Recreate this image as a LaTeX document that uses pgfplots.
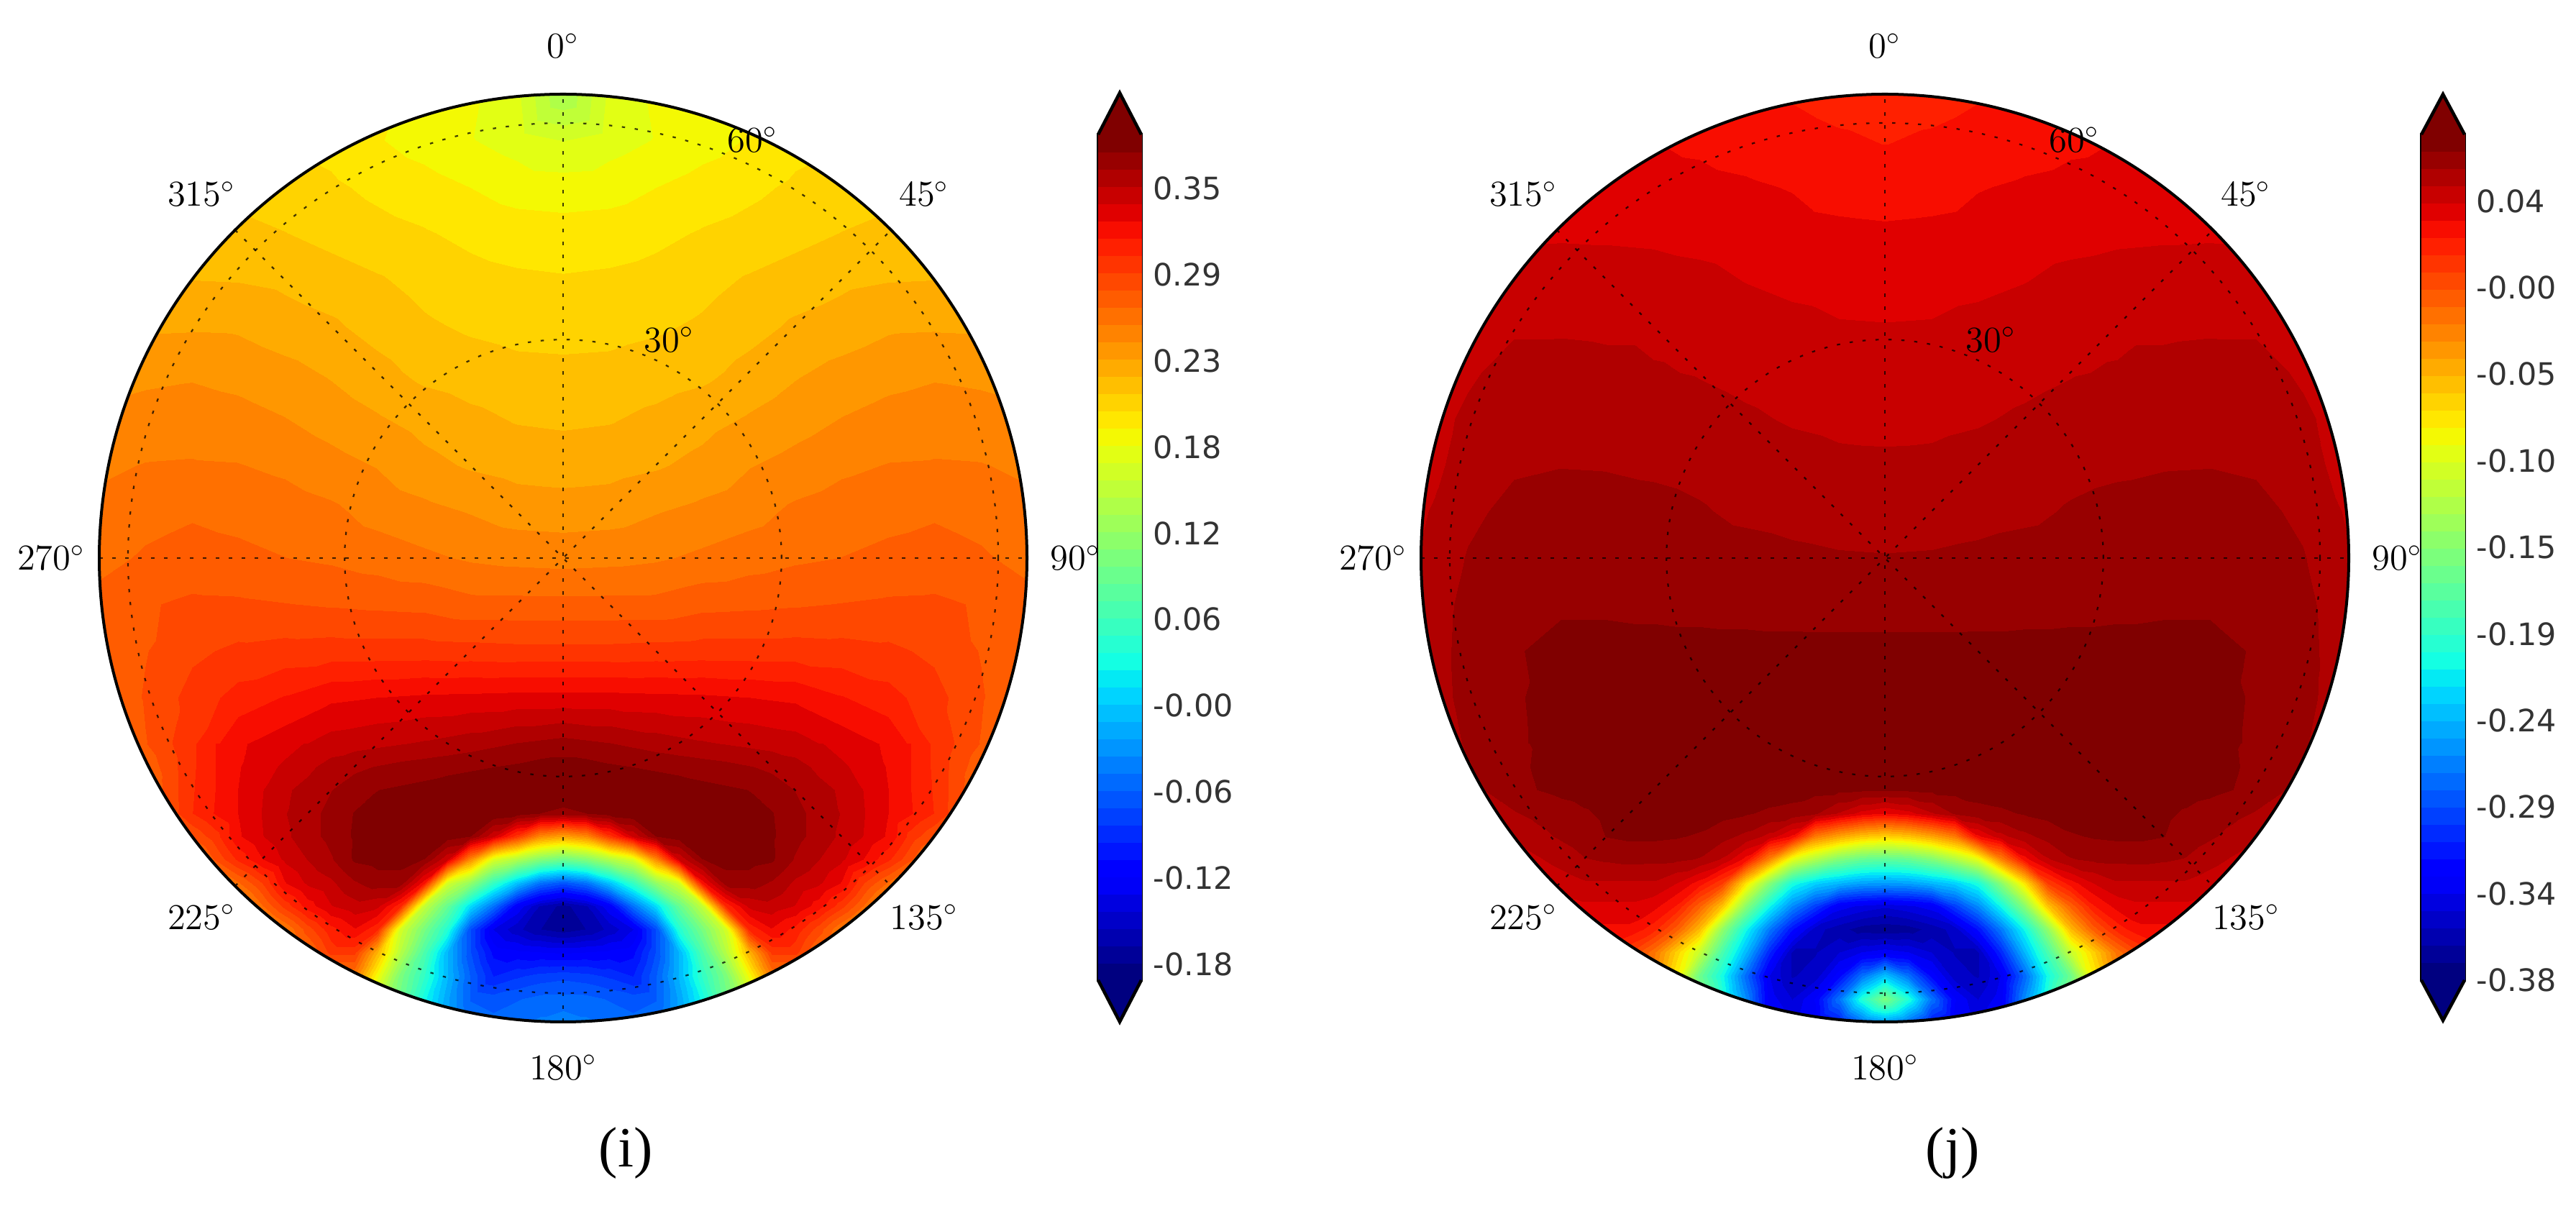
\documentclass[border=0pt]{standalone}
\usepackage{fontspec}
\usepackage{pgfplots}
\usepackage{pgfplotstable}
\pgfplotsset{compat=1.18}
\newfontfamily\barfont{DejaVu Sans}
\newfontfamily\capfont{Liberation Serif}

% matplotlib jet, cut into the 49 bands of the contour plots
\pgfplotsset{
  colormap={mpljet}{
    rgb(0pt)=(0,0,.5) rgb(110pt)=(0,0,1) rgb(125pt)=(0,0,1) rgb(340pt)=(0,.86,1)
    rgb(350pt)=(0,.9,.97) rgb(375pt)=(.08,1,.89) rgb(640pt)=(.935,1,.03) rgb(650pt)=(.97,.96,0)
    rgb(660pt)=(1,.93,0) rgb(890pt)=(1,.07,0) rgb(910pt)=(.91,0,0) rgb(1000pt)=(.5,0,0)
  },
  colormap={bands}{samples of colormap={49 of mpljet}},
  bandsurf/.style={surf, shader=interp, colormap name=bands, colormap access=piecewise constant},
}
\tikzset{griddot/.style={black, opacity=0.75, line width=0.22mm, dash pattern=on 0.45mm off 1.35mm}}

% half disk x>=0, the other half is its mirror image
% upper: x=0,0.1,...,1  y=1,0.9,...,-0.4
% lower: x=0,0.05,...,1  y=-0.4,-0.45,...,-1
\pgfplotstableread[row sep=crcr,header=false]{
0.13\\0.168\\0.18\\0.186\\0.19\\0.2\\0.205\\0.21\\0.21\\0.215\\0.215\\
0.165\\0.172\\0.178\\0.184\\0.19\\0.197\\0.205\\0.21\\0.213\\0.215\\0.215\\
0.183\\0.184\\0.189\\0.194\\0.198\\0.203\\0.206\\0.209\\0.21\\0.212\\0.212\\
0.194\\0.195\\0.198\\0.202\\0.205\\0.209\\0.213\\0.216\\0.218\\0.219\\0.219\\
0.202\\0.203\\0.205\\0.209\\0.214\\0.218\\0.222\\0.224\\0.2245\\0.224\\0.224\\
0.2085\\0.209\\0.211\\0.2145\\0.22\\0.2265\\0.23\\0.2345\\0.235\\0.2345\\0.234\\
0.2155\\0.216\\0.2185\\0.2215\\0.2285\\0.235\\0.24\\0.244\\0.2465\\0.245\\0.243\\
0.2224\\0.2235\\0.2275\\0.232\\0.2375\\0.243\\0.2485\\0.2525\\0.2545\\0.2535\\0.251\\
0.2309\\0.232\\0.235\\0.24\\0.2475\\0.2525\\0.2575\\0.2605\\0.261\\0.2605\\0.258\\
0.2421\\0.243\\0.2475\\0.2515\\0.2555\\0.2625\\0.266\\0.2685\\0.2705\\0.2675\\0.263\\
0.2556\\0.2565\\0.2585\\0.2625\\0.2665\\0.27\\0.272\\0.2745\\0.276\\0.2735\\0.268\\
0.2755\\0.2755\\0.2755\\0.28\\0.281\\0.2825\\0.284\\0.2855\\0.286\\0.2825\\0.276\\
0.299\\0.299\\0.3\\0.301\\0.301\\0.301\\0.3\\0.298\\0.293\\0.283\\0.272\\
0.335\\0.335\\0.334\\0.333\\0.331\\0.3285\\0.32\\0.312\\0.3\\0.285\\0.27\\
0.3713\\0.367\\0.361\\0.356\\0.352\\0.348\\0.338\\0.329\\0.305\\0.283\\0.262\\
}\upperI
\pgfplotstableread[row sep=crcr,header=false]{
0.3713\\0.369\\0.367\\0.364\\0.361\\0.3585\\0.356\\0.354\\0.352\\0.35\\0.348\\0.344\\0.338\\0.334\\0.329\\0.319\\0.305\\0.294\\0.283\\0.273\\0.262\\
0.383\\0.383\\0.38\\0.378\\0.376\\0.374\\0.372\\0.37\\0.367\\0.364\\0.359\\0.352\\0.345\\0.338\\0.33\\0.319\\0.305\\0.29\\0.275\\0.26\\0.25\\
0.392\\0.392\\0.391\\0.39\\0.387\\0.385\\0.382\\0.38\\0.378\\0.372\\0.366\\0.358\\0.353\\0.342\\0.331\\0.319\\0.306\\0.289\\0.27\\0.25\\0.24\\
0.374\\0.378\\0.384\\0.388\\0.39\\0.39\\0.388\\0.385\\0.382\\0.379\\0.37\\0.362\\0.354\\0.343\\0.331\\0.32\\0.307\\0.288\\0.265\\0.245\\0.23\\
0.235\\0.25\\0.3\\0.345\\0.378\\0.384\\0.386\\0.386\\0.384\\0.38\\0.37\\0.362\\0.352\\0.342\\0.329\\0.302\\0.285\\0.265\\0.245\\0.23\\0.22\\
0.09\\0.105\\0.135\\0.165\\0.25\\0.345\\0.378\\0.383\\0.383\\0.38\\0.365\\0.355\\0.345\\0.33\\0.31\\0.285\\0.26\\0.24\\0.225\\0.21\\0.2\\
-0.067\\-0.05\\-0.005\\0.05\\0.115\\0.16\\0.325\\0.372\\0.372\\0.365\\0.352\\0.345\\0.33\\0.295\\0.27\\0.245\\0.225\\0.21\\0.2\\0.19\\0.18\\
-0.17\\-0.155\\-0.12\\-0.05\\0.01\\0.085\\0.15\\0.31\\0.345\\0.35\\0.342\\0.325\\0.3\\0.27\\0.24\\0.22\\0.205\\0.195\\0.185\\0.175\\0.17\\
-0.172\\-0.165\\-0.15\\-0.13\\-0.07\\0.04\\0.1\\0.16\\0.31\\0.33\\0.315\\0.29\\0.26\\0.235\\0.215\\0.2\\0.19\\0.18\\0.17\\0.165\\0.16\\
-0.12\\-0.118\\-0.115\\-0.11\\-0.07\\-0.01\\0.07\\0.14\\0.225\\0.3\\0.3\\0.27\\0.25\\0.23\\0.21\\0.2\\0.19\\0.18\\0.17\\0.16\\0.15\\
-0.075\\-0.078\\-0.085\\-0.095\\-0.06\\-0.01\\0.05\\0.1\\0.18\\0.26\\0.26\\0.24\\0.22\\0.2\\0.19\\0.18\\0.17\\0.16\\0.15\\0.14\\0.13\\
-0.055\\-0.055\\-0.06\\-0.065\\-0.06\\-0.02\\0.03\\0.09\\0.15\\0.22\\0.23\\0.22\\0.2\\0.19\\0.18\\0.17\\0.16\\0.15\\0.14\\0.13\\0.12\\
-0.04\\-0.045\\-0.05\\-0.055\\-0.05\\-0.02\\0.02\\0.08\\0.14\\0.2\\0.21\\0.2\\0.19\\0.18\\0.17\\0.16\\0.15\\0.14\\0.13\\0.12\\0.11\\
}\lowerI
\pgfplotstableread[row sep=crcr,header=false]{
0.018\\0.019\\0.022\\0.026\\0.028\\0.03\\0.032\\0.032\\0.032\\0.032\\0.032\\
0.0225\\0.0245\\0.027\\0.029\\0.031\\0.0325\\0.034\\0.035\\0.036\\0.036\\0.036\\
0.0283\\0.029\\0.032\\0.0335\\0.0345\\0.035\\0.0365\\0.038\\0.039\\0.039\\0.039\\
0.0339\\0.0345\\0.0355\\0.037\\0.0385\\0.04\\0.0405\\0.0408\\0.041\\0.04\\0.04\\
0.0381\\0.0385\\0.0395\\0.0415\\0.0445\\0.0455\\0.046\\0.046\\0.0455\\0.044\\0.043\\
0.0422\\0.0425\\0.0445\\0.0465\\0.049\\0.0495\\0.0495\\0.05\\0.05\\0.047\\0.045\\
0.0456\\0.046\\0.0475\\0.049\\0.0508\\0.052\\0.054\\0.055\\0.0545\\0.05\\0.047\\
0.0491\\0.0495\\0.0505\\0.0525\\0.0545\\0.057\\0.0585\\0.059\\0.0585\\0.053\\0.047\\
0.0528\\0.053\\0.0545\\0.0565\\0.0585\\0.0595\\0.0603\\0.0605\\0.0595\\0.0545\\0.048\\
0.0569\\0.0572\\0.058\\0.059\\0.0615\\0.063\\0.0635\\0.064\\0.0635\\0.0585\\0.05\\
0.0612\\0.0615\\0.0625\\0.064\\0.065\\0.0655\\0.066\\0.0665\\0.0665\\0.0615\\0.052\\
0.0668\\0.0668\\0.067\\0.0675\\0.068\\0.0685\\0.069\\0.069\\0.0678\\0.064\\0.053\\
0.0725\\0.0725\\0.0725\\0.0725\\0.0725\\0.0725\\0.0725\\0.0725\\0.0695\\0.0645\\0.054\\
0.074\\0.074\\0.074\\0.074\\0.074\\0.074\\0.074\\0.074\\0.069\\0.064\\0.054\\
0.075\\0.075\\0.075\\0.075\\0.075\\0.075\\0.075\\0.074\\0.0685\\0.062\\0.052\\
}\upperJ
\pgfplotstableread[row sep=crcr,header=false]{
0.075\\0.075\\0.075\\0.075\\0.075\\0.075\\0.075\\0.075\\0.075\\0.075\\0.075\\0.075\\0.075\\0.075\\0.074\\0.071\\0.0685\\0.065\\0.062\\0.057\\0.052\\
0.076\\0.076\\0.076\\0.076\\0.076\\0.076\\0.076\\0.076\\0.076\\0.076\\0.076\\0.076\\0.076\\0.076\\0.0735\\0.0715\\0.067\\0.064\\0.06\\0.055\\0.05\\
0.072\\0.072\\0.0725\\0.073\\0.074\\0.075\\0.076\\0.076\\0.076\\0.076\\0.076\\0.076\\0.075\\0.074\\0.0725\\0.0702\\0.066\\0.062\\0.058\\0.053\\0.048\\
0.032\\0.038\\0.05\\0.062\\0.067\\0.0685\\0.071\\0.073\\0.075\\0.076\\0.075\\0.074\\0.072\\0.069\\0.066\\0.063\\0.06\\0.056\\0.052\\0.047\\0.042\\
-0.066\\-0.06\\-0.045\\-0.025\\0.03\\0.048\\0.058\\0.064\\0.069\\0.071\\0.072\\0.072\\0.0705\\0.066\\0.062\\0.058\\0.054\\0.05\\0.046\\0.042\\0.038\\
-0.17\\-0.165\\-0.15\\-0.125\\-0.095\\-0.03\\0.028\\0.05\\0.06\\0.0625\\0.063\\0.0635\\0.062\\0.06\\0.055\\0.05\\0.045\\0.04\\0.036\\0.033\\0.03\\
-0.252\\-0.25\\-0.24\\-0.228\\-0.205\\-0.145\\-0.075\\0.005\\0.028\\0.042\\0.05\\0.05\\0.05\\0.05\\0.046\\0.042\\0.038\\0.034\\0.03\\0.028\\0.026\\
-0.343\\-0.338\\-0.33\\-0.295\\-0.26\\-0.21\\-0.145\\-0.06\\-0.012\\0.022\\0.036\\0.04\\0.04\\0.04\\0.037\\0.034\\0.03\\0.027\\0.025\\0.023\\0.022\\
-0.37\\-0.368\\-0.36\\-0.35\\-0.315\\-0.267\\-0.21\\-0.14\\-0.055\\-0.01\\0.018\\0.03\\0.03\\0.03\\0.028\\0.026\\0.024\\0.022\\0.021\\0.02\\0.02\\
-0.33\\-0.335\\-0.345\\-0.355\\-0.355\\-0.305\\-0.24\\-0.18\\-0.11\\-0.065\\-0.02\\0.005\\0.015\\0.02\\0.02\\0.02\\0.02\\0.02\\0.02\\0.02\\0.02\\
-0.233\\-0.27\\-0.32\\-0.35\\-0.355\\-0.335\\-0.275\\-0.209\\-0.16\\-0.08\\-0.03\\0\\0.01\\0.015\\0.015\\0.015\\0.015\\0.015\\0.015\\0.015\\0.015\\
-0.15\\-0.2\\-0.27\\-0.325\\-0.345\\-0.33\\-0.26\\-0.2\\-0.14\\-0.07\\-0.03\\0\\0.01\\0.01\\0.01\\0.01\\0.01\\0.01\\0.01\\0.01\\0.01\\
-0.25\\-0.27\\-0.31\\-0.33\\-0.34\\-0.32\\-0.26\\-0.2\\-0.14\\-0.07\\-0.03\\0\\0.01\\0.01\\0.01\\0.01\\0.01\\0.01\\0.01\\0.01\\0.01\\
}\lowerJ

% #1 upper table, #2 lower table (the 0.5 keeps floor away from rounding errors)
\newcommand{\plotdisk}[2]{
  \addplot3[bandsurf, mesh/cols=11] table[x index=0, y index=0, z index=0, x expr={0.1*mod(\coordindex,11)}, y expr={1-0.1*floor((\coordindex+0.5)/11)}, z expr=\thisrowno{0}] {#1};
  \addplot3[bandsurf, mesh/cols=11] table[x index=0, y index=0, z index=0, x expr={-0.1*mod(\coordindex,11)}, y expr={1-0.1*floor((\coordindex+0.5)/11)}, z expr=\thisrowno{0}] {#1};
  \addplot3[bandsurf, mesh/cols=21] table[x index=0, y index=0, z index=0, x expr={0.05*mod(\coordindex,21)}, y expr={-0.4-0.05*floor((\coordindex+0.5)/21)}, z expr=\thisrowno{0}] {#2};
  \addplot3[bandsurf, mesh/cols=21] table[x index=0, y index=0, z index=0, x expr={-0.05*mod(\coordindex,21)}, y expr={-0.4-0.05*floor((\coordindex+0.5)/21)}, z expr=\thisrowno{0}] {#2};
}

% spokes, circles and angle labels in disk units
\newcommand{\diskframe}{
  \addplot[griddot] coordinates {(0,-1) (0,1)};
  \addplot[griddot] coordinates {(-1,0) (1,0)};
  \addplot[griddot] coordinates {(-0.707,-0.707) (0.707,0.707)};
  \addplot[griddot] coordinates {(-0.707,0.707) (0.707,-0.707)};
  \draw[griddot] (axis cs:0,0) circle [radius=0.471];
  \draw[griddot] (axis cs:0,0) circle [radius=0.938];
  \draw[black, line width=0.4mm] (axis cs:0,0) circle [radius=1];
  \node at (axis cs:0,1.104) {$0^\circ$};
  \node at (axis cs:0.778,0.785) {$45^\circ$};
  \node at (axis cs:1.104,0) {$90^\circ$};
  \node at (axis cs:0.778,-0.774) {$135^\circ$};
  \node at (axis cs:0,-1.098) {$180^\circ$};
  \node at (axis cs:-0.78,-0.774) {$225^\circ$};
  \node at (axis cs:-1.104,0) {$270^\circ$};
  \node at (axis cs:-0.78,0.785) {$315^\circ$};
  \node at (axis cs:0.228,0.471) {$30^\circ$};
  \node at (axis cs:0.408,0.902) {$60^\circ$};
}

\pgfplotsset{
  diskaxis/.style={scale only axis, width=129mm, height=129mm, anchor=center,
    xmin=-1, xmax=1, ymin=-1, ymax=1, hide axis},
  baraxis/.style={scale only axis, width=6mm, height=117.6mm, anchor=south west,
    xmin=0, xmax=1, xtick=\empty, clip=false,
    ytick pos=right, yticklabel pos=right, tick align=inside,
    major tick length=1.4mm, tick style={black, line width=0.3mm},
    axis line style={line width=0.45mm},
    yticklabel style={font=\barfont\fontsize{12.2}{14}\selectfont, anchor=west, inner xsep=0pt, xshift=1.6mm, text=black!80},
  },
}

\begin{document}
\begin{tikzpicture}
  \path[use as bounding box] (0,0) rectangle (358.2mm,167.7mm);

  % panel (i)
  \begin{scope}
    \clip (78.3mm,90.1mm) circle (64.5mm);
    \begin{axis}[diskaxis, at={(78.3mm,90.1mm)}, view={0}{90}, point meta min=-0.189, point meta max=0.39]
      \plotdisk{\upperI}{\lowerI}
    \end{axis}
  \end{scope}
  \begin{axis}[diskaxis, at={(78.3mm,90.1mm)}, clip=false, font=\fontsize{13.6}{16}\selectfont]
    \diskframe
  \end{axis}
  \begin{axis}[baraxis, at={(152.7mm,31.4mm)}, ymin=-0.189, ymax=0.39,
      point meta min=-0.189, point meta max=0.39,
      ytick={-0.178,-0.119,-0.06,-0.001,0.058,0.117,0.176,0.235,0.294,0.353},
      yticklabels={-0.18,-0.12,-0.06,-0.00,0.06,0.12,0.18,0.23,0.29,0.35}]
    \addplot[bandsurf, mesh/cols=2, point meta=y] coordinates {(0,-0.189) (1,-0.189) (0,0.39) (1,0.39)};
    \addplot[fill={rgb,1:red,.5;green,0;blue,0}, draw=black, line width=0.45mm] coordinates {(0,0.39) (0.5,0.4185) (1,0.39)};
    \addplot[fill={rgb,1:red,0;green,0;blue,.5}, draw=black, line width=0.45mm] coordinates {(0,-0.189) (0.5,-0.2175) (1,-0.189)};
  \end{axis}
  \node[font=\capfont\fontsize{22.5}{26}\selectfont] at (87mm,7.4mm) {(i)};

  % panel (j)
  \begin{scope}
    \clip (262.1mm,90.1mm) circle (64.5mm);
    \begin{axis}[diskaxis, at={(262.1mm,90.1mm)}, view={0}{90}, point meta min=-0.3825, point meta max=0.0796]
      \plotdisk{\upperJ}{\lowerJ}
    \end{axis}
  \end{scope}
  \begin{axis}[diskaxis, at={(262.1mm,90.1mm)}, clip=false, font=\fontsize{13.6}{16}\selectfont]
    \diskframe
  \end{axis}
  \begin{axis}[baraxis, at={(336.7mm,31.4mm)}, ymin=-0.3825, ymax=0.0796,
      point meta min=-0.3825, point meta max=0.0796,
      ytick={-0.3825,-0.3352,-0.2879,-0.2406,-0.1933,-0.146,-0.0987,-0.0514,-0.0041,0.0432},
      yticklabels={-0.38,-0.34,-0.29,-0.24,-0.19,-0.15,-0.10,-0.05,-0.00,0.04}]
    \addplot[bandsurf, mesh/cols=2, point meta=y] coordinates {(0,-0.3825) (1,-0.3825) (0,0.0796) (1,0.0796)};
    \addplot[fill={rgb,1:red,.5;green,0;blue,0}, draw=black, line width=0.45mm] coordinates {(0,0.0796) (0.5,0.1016) (1,0.0796)};
    \addplot[fill={rgb,1:red,0;green,0;blue,.5}, draw=black, line width=0.45mm] coordinates {(0,-0.3825) (0.5,-0.4045) (1,-0.3825)};
  \end{axis}
  \node[font=\capfont\fontsize{22.5}{26}\selectfont] at (271.5mm,7.4mm) {(j)};
\end{tikzpicture}
\end{document}
